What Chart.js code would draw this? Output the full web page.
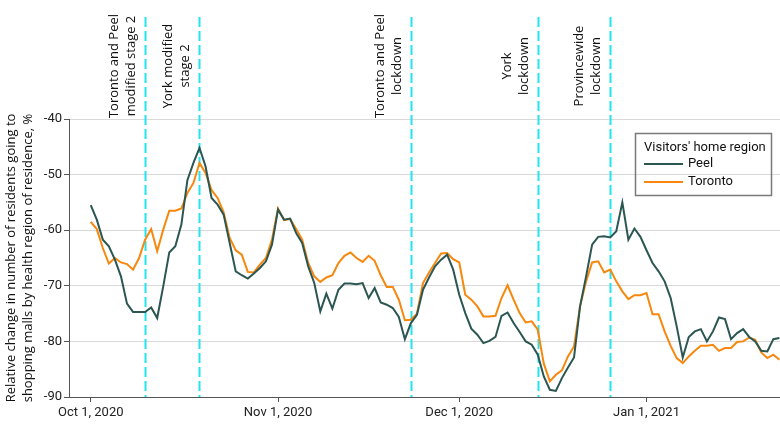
<!DOCTYPE html>
<html>
<head>
<meta charset="utf-8">
<script src="https://cdn.jsdelivr.net/npm/chart.js@4"></script>
<style>
  html, body { margin: 0; padding: 0; background: #fff; }
</style>
</head>
<body>
<canvas id="mallChart" width="780" height="429"></canvas>
<script>
// days since Oct 1, 2020
const peel = [
  -55.5, -58.1, -61.7, -62.9, -65.3, -68.3, -73.2, -74.7, -74.7, -74.7,
  -73.9, -75.8, -70.1, -64.0, -62.9, -59.0, -51.0, -47.9, -45.2, -48.5,
  -54.2, -55.4, -57.2, -62.3, -67.4, -68.1, -68.7, -67.8, -66.8, -65.6,
  -62.6, -56.3, -58.1, -57.9, -60.5, -62.3, -66.5, -69.5, -74.6, -71.4,
  -74.1, -70.7, -69.6, -69.6, -69.7, -69.5, -72.2, -70.4, -73.0, -73.4,
  -74.0, -75.6, -79.6, -76.7, -75.2, -70.7, -68.5, -66.5, -65.3, -64.4,
  -67.1, -71.6, -74.9, -77.7, -78.8, -80.3, -79.9, -79.2, -75.4, -74.8,
  -76.7, -78.3, -80.0, -80.6, -82.4, -86.3, -88.7, -88.9, -86.6, -84.7,
  -82.9, -73.7, -68.3, -62.6, -61.2, -61.1, -61.3, -60.2, -55.0, -61.7,
  -59.7, -61.2, -63.6, -65.9, -67.4, -69.2, -72.2, -77.3, -82.9, -79.2,
  -78.2, -77.8, -80.0, -78.2, -75.7, -76.0, -79.6, -78.5, -77.8, -79.2,
  -80.0, -81.7, -81.8, -79.6, -79.4
];
const toronto = [
  -58.5, -59.8, -63.2, -66.0, -65.0, -65.8, -66.1, -67.1, -65.0, -61.7,
  -59.8, -63.8, -59.9, -56.5, -56.5, -56.1, -53.3, -51.5, -47.9, -49.7,
  -52.8, -54.2, -56.8, -61.4, -63.6, -64.4, -67.5, -67.6, -66.2, -65.0,
  -61.7, -56.1, -58.2, -58.0, -59.8, -61.7, -65.9, -68.3, -69.3, -68.5,
  -68.1, -65.9, -64.6, -64.0, -65.0, -65.7, -64.6, -65.5, -68.1, -70.2,
  -70.2, -72.5, -76.2, -76.1, -75.0, -69.5, -67.6, -65.9, -64.2, -64.1,
  -65.2, -65.8, -71.6, -72.5, -73.7, -75.5, -75.5, -75.4, -72.2, -69.9,
  -72.5, -74.9, -76.6, -76.4, -77.9, -84.0, -87.2, -86.0, -85.2, -82.7,
  -80.9, -73.7, -69.2, -65.8, -65.6, -67.6, -67.1, -69.2, -71.0, -72.4,
  -71.7, -71.7, -71.3, -75.1, -75.1, -78.2, -80.8, -83.0, -83.9, -82.7,
  -81.7, -80.8, -80.8, -80.6, -81.7, -81.2, -81.2, -80.1, -80.0, -79.3,
  -79.7, -82.0, -83.0, -82.4, -83.3
];
const days = peel.map((_, i) => i);

const tickDays = [0, 31, 61, 92];
const tickLabels = ['Oct 1, 2020', 'Nov 1, 2020', 'Dec 1, 2020', 'Jan 1, 2021'];

const eventDays = [9, 18, 53, 74, 86];
const eventLabels = [
  ['Toronto and Peel', 'modified stage 2'],
  ['York modified', 'stage 2'],
  ['Toronto and Peel', 'lockdown'],
  ['York', 'lockdown'],
  ['Provincewide', 'lockdown']
];

const yTitle = [
  'Relative change in number of residents going to',
  'shopping malls by health region of residence, %'
];

// dashed policy lines + rotated labels
const eventLines = {
  id: 'eventLines',
  beforeDatasetsDraw(chart) {
    const ctx = chart.ctx;
    const x = chart.scales.x;
    const bottom = chart.chartArea.bottom;
    ctx.save();
    eventDays.forEach((d, i) => {
      const px = Math.round(x.getPixelForValue(d)) + 0.5;
      ctx.strokeStyle = '#22e3f0';
      ctx.lineWidth = 2;
      ctx.setLineDash([10, 4]);
      ctx.beginPath();
      ctx.moveTo(px, 17);
      ctx.lineTo(px, bottom);
      ctx.stroke();

      const lines = eventLabels[i];
      ctx.setLineDash([]);
      ctx.fillStyle = '#111';
      ctx.font = '13px "Open Sans"';
      ctx.textAlign = 'center';
      ctx.textBaseline = 'middle';
      lines.forEach((t, j) => {
        const lx = px - 14 - (lines.length - 1 - j) * 17;
        ctx.save();
        ctx.translate(lx, 66);
        ctx.rotate(-Math.PI / 2);
        ctx.fillText(t, 0, 0);
        ctx.restore();
      });
    });
    ctx.restore();
  }
};

// boxed legend in the top right
const boxLegend = {
  id: 'boxLegend',
  afterDraw(chart) {
    const ctx = chart.ctx;
    ctx.save();
    ctx.strokeStyle = '#7a7a7a';
    ctx.lineWidth = 1.5;
    ctx.strokeRect(635.5, 133.5, 136, 62);
    ctx.fillStyle = '#111';
    ctx.font = '13px Roboto';
    ctx.textAlign = 'left';
    ctx.textBaseline = 'middle';
    ctx.fillText("Visitors' home region", 644, 148);
    chart.data.datasets.forEach((ds, i) => {
      const y = 164 + i * 18;
      ctx.strokeStyle = ds.borderColor;
      ctx.lineWidth = 2;
      ctx.beginPath();
      ctx.moveTo(644, y);
      ctx.lineTo(683, y);
      ctx.stroke();
      ctx.fillText(ds.label, 688, y);
    });
    ctx.restore();
  }
};

const ctx = document.getElementById('mallChart').getContext('2d');
const mallChart = new Chart(ctx, {
  type: 'line',
  data: {
    labels: days,
    datasets: [
      {
        label: 'Peel',
        data: peel,
        borderColor: '#2b5652',
        borderWidth: 2,
        pointRadius: 0,
        tension: 0
      },
      {
        label: 'Toronto',
        data: toronto,
        borderColor: '#f7870d',
        borderWidth: 2,
        pointRadius: 0,
        tension: 0
      }
    ]
  },
  options: {
    responsive: false,
    animation: false,
    layout: { padding: { top: 119, right: 0, left: 0, bottom: 0 } },
    plugins: {
      legend: { display: false },
      tooltip: { enabled: false }
    },
    scales: {
      x: {
        type: 'linear',
        min: -3.6,
        max: 114.1,
        afterBuildTicks(scale) {
          scale.ticks = tickDays.map(v => ({ value: v }));
        },
        afterFit(scale) { scale.height = 32; },
        ticks: {
          autoSkip: false,
          maxRotation: 0,
          padding: 3,
          color: '#222',
          font: { family: 'Roboto', size: 13 },
          callback: (v) => tickLabels[tickDays.indexOf(v)]
        },
        grid: { drawOnChartArea: false, tickLength: 5, tickColor: '#555' },
        border: { color: '#555', width: 1 }
      },
      y: {
        min: -90,
        max: -40,
        afterFit(scale) { scale.width = 69; },
        ticks: {
          stepSize: 10,
          padding: 2,
          color: '#222',
          font: { family: 'Roboto', size: 13 }
        },
        grid: { color: '#d9d9d9', tickLength: 5, tickColor: '#555' },
        border: { color: '#555', width: 1 },
        title: {
          display: true,
          text: yTitle,
          color: '#111',
          font: { family: 'Open Sans', size: 13, lineHeight: 1.3 },
          padding: { top: 3, bottom: 0 }
        }
      }
    }
  },
  plugins: [eventLines, boxLegend]
});
</script>
</body>
</html>
